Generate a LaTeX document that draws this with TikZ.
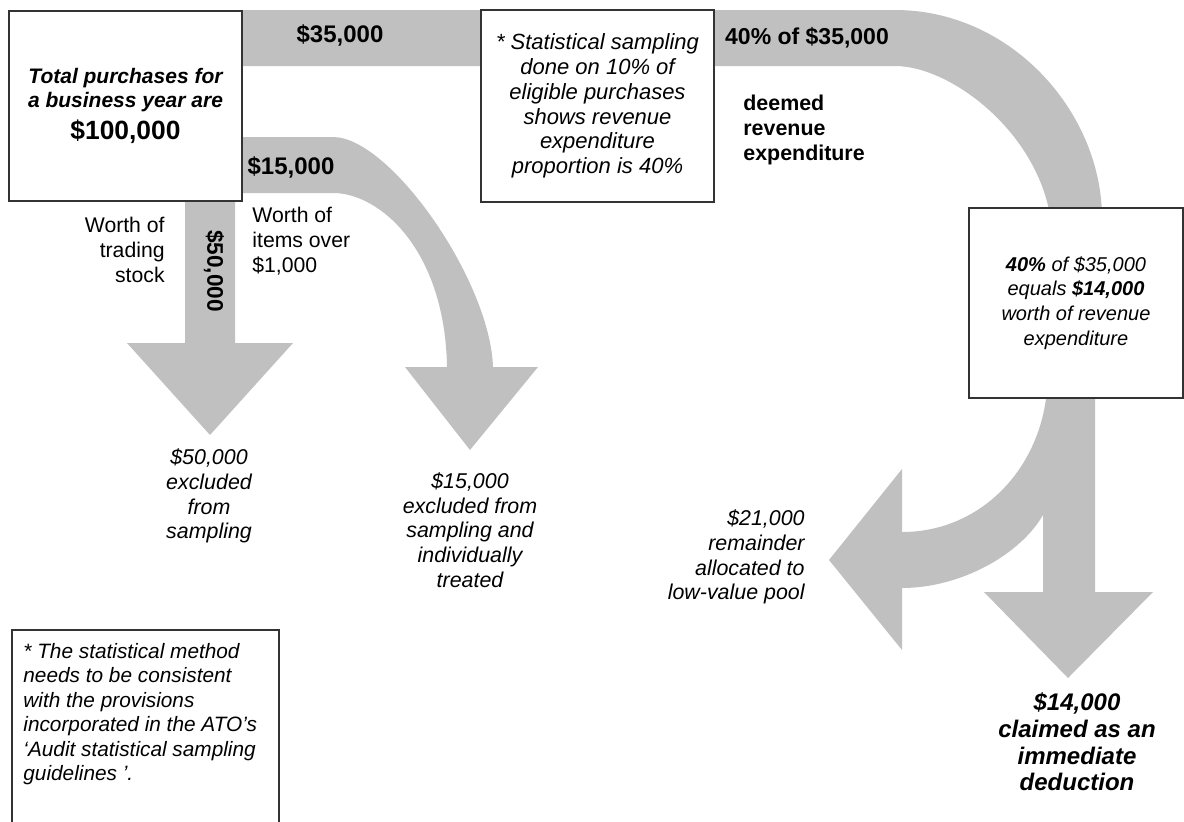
\documentclass[tikz,border=0pt]{standalone}
\usepackage{fontspec}
\setmainfont{Liberation Sans}
\usetikzlibrary{positioning}
\definecolor{flowgrey}{RGB}{192,192,192}
\definecolor{boxline}{RGB}{51,51,51}
\tikzstyle{infobox} = [rectangle, draw=boxline, line width=1pt, fill=white, inner sep=0pt, align=center]
\tikzstyle{flow} = [fill=flowgrey, draw=none]
\tikzstyle{amount} = [inner sep=0pt, font=\fontsize{12}{14}\selectfont\bfseries]
\tikzstyle{remark} = [inner sep=0pt, font=\fontsize{10.7}{12.4}\selectfont\itshape]
\tikzstyle{worth} = [inner sep=0pt, font=\fontsize{10.6}{12.4}\selectfont]

\begin{document}
\begin{tikzpicture}[x=0.5pt, y=-0.5pt]
        \useasboundingbox (0,0) rectangle (1184,821);

        % Fluxos
        \fill[flow] (240,10) -- (895,10) .. controls (1010,10) and (1100,110) .. (1102,215)
            -- (1050,215) .. controls (1035,130) and (950,66) .. (895,66) -- (240,66) -- cycle;
        \fill[flow] (240,137) -- (333,137) .. controls (390,137) and (490,280) .. (493,367)
            -- (538,367) -- (470,450) -- (405,367) -- (447,367)
            .. controls (445,250) and (380,193) .. (333,193) -- (240,193) -- cycle;
        \fill[flow] (185,195) -- (235,195) -- (235,343) -- (293,343) -- (210,435) -- (127,343) -- (185,343) -- cycle;
        \fill[flow] (1047,390) -- (1095,390) -- (1095,592) -- (1153,592) -- (1068,678) -- (984,592) -- (1043,592)
            -- (1043,515) .. controls (1020,555) and (960,588) .. (902,588) -- (902,650) -- (829,560) -- (902,469)
            -- (902,532) .. controls (980,532) and (1040,470) .. (1047,390) -- cycle;

        % Caixas
        \node (total) [infobox, minimum width=116.5pt, minimum height=95pt, font=\fontsize{10.5}{12}\selectfont\bfseries\itshape] at (125.5,106)
            {Total purchases for\\a business year are\\[4pt]{\upshape\fontsize{13.2}{15}\selectfont \$100,000}};
        \node (sampling) [infobox, minimum width=116.5pt, minimum height=96pt, font=\fontsize{11}{12.4}\selectfont\itshape] at (597.5,106)
            {* Statistical sampling\\done on 10\% of\\eligible purchases\\shows revenue\\expenditure\\proportion is 40\%};
        \node (share) [infobox, minimum width=107pt, minimum height=95pt, font=\fontsize{10}{12.4}\selectfont\itshape] at (1076,303)
            {{\bfseries 40\%} of \$35,000\\equals {\bfseries \$14,000}\\worth of revenue\\expenditure};
        \node (guidebox) [infobox, anchor=north west, minimum width=133.5pt, minimum height=110pt] at (11,629) {};
        \node (guidetext) [remark, anchor=north west, align=left, font=\fontsize{10.4}{12.25}\selectfont\itshape] at (23,643)
            {* The statistical method\\needs to be consistent\\with the provisions\\incorporated in the ATO’s\\‘Audit statistical sampling\\guidelines ’.};

        % Valores
        \node (band35) [amount] at (340,35) {\$35,000};
        \node (band15) [amount] at (291,167) {\$15,000};
        \node (band50) [amount, rotate=-90, font=\fontsize{11.3}{13}\selectfont\bfseries] at (214,271) {\$50,000};
        \node (band40) [amount, font=\fontsize{11.5}{13}\selectfont\bfseries] at (807,38) {40\% of \$35,000};
        \node (deemed) [amount, anchor=west, align=left, font=\fontsize{10.7}{12.5}\selectfont\bfseries] at (743,130) {deemed\\revenue\\expenditure};

        % Legendas
        \node (stock) [worth, anchor=east, align=right] at (165,250) {Worth of\\trading\\stock};
        \node (items) [worth, anchor=west, align=left] at (252,241) {Worth of\\items over\\\$1,000};
        \node (excl50) [remark, align=center] at (209,496) {\$50,000\\excluded\\from\\sampling};
        \node (excl15) [remark, align=center] at (470,530) {\$15,000\\excluded from\\sampling and\\individually\\treated};
        \node (pool) [remark, anchor=east, align=right] at (805,557) {\$21,000\\remainder\\allocated to\\low-value pool};
        \node (claim) [remark, align=center, font=\fontsize{12}{13.3}\selectfont\bfseries\itshape] at (1077,742) {\$14,000\\claimed as an\\immediate\\deduction};
    \end{tikzpicture}
\end{document}
